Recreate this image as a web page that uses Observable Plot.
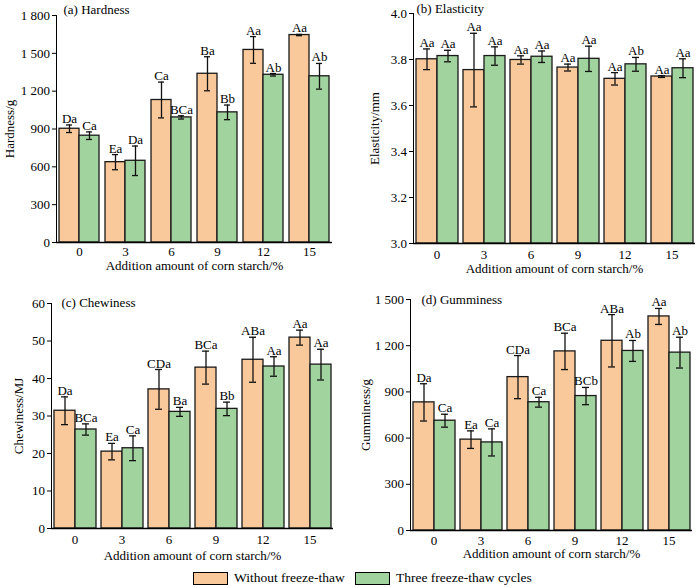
<!DOCTYPE html>
<html>
<head>
<meta charset="utf-8">
<script src="https://cdn.jsdelivr.net/npm/d3@7"></script>
<script src="https://cdn.jsdelivr.net/npm/@observablehq/plot@0.6"></script>
<style>
  body { margin: 0; background: #fff; font-family: "Liberation Serif", "DejaVu Serif", serif; }
  #wrap { position: relative; width: 700px; height: 587px; overflow: hidden; background: #fff; }
  .panel { position: absolute; }
  .legend { position: absolute; top: 570px; left: 0; width: 700px; height: 16px; font-size: 13.5px; color: #000; }
  .legend .item { position: absolute; top: 0; display: flex; align-items: center; }
  .legend .sw { width: 33px; height: 11px; border: 1.2px solid #000; margin-right: 6px; }
</style>
</head>
<body>
<div id="wrap"></div>
<script>
// ---- data ----
const amounts = ["0", "3", "6", "9", "12", "15"];
const series = ["Without freeze-thaw", "Three freeze-thaw cycles"];
const seriesColors = ["#F9C99C", "#A0D39D"];

// (a) Hardness /g
const hardnessWithout = [902, 637, 1130, 1338, 1527, 1645];
const hardnessWithoutErr = [30, 60, 142, 135, 106, 5];
const hardnessThree = [847, 648, 992, 1032, 1330, 1318];
const hardnessThreeErr = [30, 117, 13, 58, 10, 102];
const hardnessWithoutLbl = ["Da", "Ea", "Ca", "Ba", "Aa", "Aa"];
const hardnessThreeLbl = ["Ca", "Da", "BCa", "Bb", "Ab", "Ab"];
const hardnessTicks = [0, 300, 600, 900, 1200, 1500, 1800];

// (b) Elasticity /mm
const elasticityWithout = [3.801, 3.754, 3.798, 3.765, 3.716, 3.726];
const elasticityWithoutErr = [0.045, 0.16, 0.018, 0.015, 0.027, 0.004];
const elasticityThree = [3.815, 3.815, 3.812, 3.803, 3.779, 3.762];
const elasticityThreeErr = [0.025, 0.04, 0.025, 0.055, 0.03, 0.041];
const elasticityWithoutLbl = ["Aa", "Aa", "Aa", "Aa", "Aa", "Aa"];
const elasticityThreeLbl = ["Aa", "Aa", "Aa", "Aa", "Ab", "Aa"];
const elasticityTicks = [3.0, 3.2, 3.4, 3.6, 3.8, 4.0];

// (c) Chewiness /MJ
const chewinessWithout = [31.4, 20.5, 37.1, 42.9, 45.0, 50.9];
const chewinessWithoutErr = [3.7, 2.2, 5.3, 4.4, 6.0, 2.0];
const chewinessThree = [26.4, 21.4, 31.1, 31.9, 43.2, 43.7];
const chewinessThreeErr = [1.5, 3.3, 1.2, 1.8, 2.6, 4.1];
const chewinessWithoutLbl = ["Da", "Ea", "CDa", "BCa", "ABa", "Aa"];
const chewinessThreeLbl = ["BCa", "Ca", "Ba", "Bb", "Aa", "Aa"];
const chewinessTicks = [0, 10, 20, 30, 40, 50, 60];

// (d) Gumminess /g
const gumminessWithout = [832, 590, 996, 1163, 1232, 1390];
const gumminessWithoutErr = [121, 57, 140, 118, 170, 52];
const gumminessThree = [713, 572, 833, 873, 1166, 1155];
const gumminessThreeErr = [42, 88, 32, 56, 68, 100];
const gumminessWithoutLbl = ["Da", "Ea", "CDa", "BCa", "ABa", "Aa"];
const gumminessThreeLbl = ["Ca", "Ca", "Ca", "BCb", "Ab", "Ab"];
const gumminessTicks = [0, 300, 600, 900, 1200, 1500];

const xTitle = "Addition amount of corn starch/%";

// ---- helpers ----
const loc = d3.formatLocale({decimal: ".", thousands: " ", grouping: [3], currency: ["", ""]});
const fmtInt = loc.format(",");
const fmtOne = d3.format(".1f");

function rowsOf(v0, e0, l0, v1, e1, l1) {
  const rows = [];
  amounts.forEach((a, i) => {
    rows.push({amount: a, series: series[0], value: v0[i], err: e0[i], label: l0[i]});
    rows.push({amount: a, series: series[1], value: v1[i], err: e1[i], label: l1[i]});
  });
  return rows;
}

function panel(cfg) {
  const rows = cfg.rows;
  const base = cfg.domain[0];
  const chart = Plot.plot({
    width: cfg.width,
    height: cfg.height,
    marginLeft: cfg.ml, marginRight: cfg.mr, marginTop: cfg.mt, marginBottom: cfg.mb,
    style: {fontFamily: "Liberation Serif, serif", fontSize: "13px", color: "#000", background: "transparent", overflow: "visible"},
    fx: {domain: amounts, padding: 0, label: xTitle, labelAnchor: "center", labelOffset: cfg.xlo, labelArrow: "none", tickSize: 0, tickPadding: cfg.xtp},
    x: {domain: series, paddingInner: 0, paddingOuter: 0.1, axis: null},
    y: {domain: cfg.domain, ticks: cfg.ticks, tickFormat: cfg.fmt, tickSize: 4, tickPadding: 2.5, line: true,
        label: cfg.ylabel, labelAnchor: "center", labelOffset: cfg.ylo, labelArrow: "none"},
    color: {domain: series, range: seriesColors},
    marks: [
      Plot.barY(rows, {fx: "amount", x: "series", y1: base, y2: "value", fill: "series", stroke: "#1a1a1a", strokeWidth: 1.3}),
      Plot.ruleX(rows, {fx: "amount", x: "series", y1: d => d.value - d.err, y2: d => d.value + d.err, stroke: "#111", strokeWidth: 1.3}),
      Plot.tickY(rows, {fx: "amount", x: "series", y: d => d.value - d.err, insetLeft: 7, insetRight: 7, stroke: "#111", strokeWidth: 1.3}),
      Plot.tickY(rows, {fx: "amount", x: "series", y: d => d.value + d.err, insetLeft: 7, insetRight: 7, stroke: "#111", strokeWidth: 1.3}),
      Plot.text(rows, {fx: "amount", x: "series", y: d => d.value + d.err, text: "label", lineAnchor: "bottom", dy: -2, fill: "#000", fontSize: 13}),
      Plot.ruleY([base], {stroke: "#000", strokeWidth: 1.3}),
      Plot.text([{amount: amounts[0], t: cfg.title}], {fx: "amount", text: "t", frameAnchor: "top-left", textAnchor: "start", lineAnchor: "middle", dx: cfg.tdx, dy: cfg.tdy, fill: "#000", fontSize: 13})
    ]
  });
  const div = document.createElement("div");
  div.className = "panel";
  div.style.left = cfg.left + "px";
  div.style.top = cfg.top + "px";
  div.appendChild(chart);
  document.getElementById("wrap").appendChild(div);
}

panel({
  rows: rowsOf(hardnessWithout, hardnessWithoutErr, hardnessWithoutLbl, hardnessThree, hardnessThreeErr, hardnessThreeLbl),
  left: 0, top: 0, width: 350, height: 280, ml: 53, mr: 16, mt: 15, mb: 38,
  domain: [0, 1800], ticks: hardnessTicks, fmt: fmtInt, ylabel: "Hardness/g", ylo: 52, xlo: 27.5, xtp: 4,
  title: "(a) Hardness", tdx: 7, tdy: -6
});
panel({
  rows: rowsOf(elasticityWithout, elasticityWithoutErr, elasticityWithoutLbl, elasticityThree, elasticityThreeErr, elasticityThreeLbl),
  left: 350, top: 0, width: 350, height: 280, ml: 62, mr: 5, mt: 13, mb: 37,
  domain: [3, 4], ticks: elasticityTicks, fmt: fmtOne, ylabel: "Elasticity/mm", ylo: 44, xlo: 29.5, xtp: 6,
  title: "(b) Elasticity", tdx: 3, tdy: -5
});
panel({
  rows: rowsOf(chewinessWithout, chewinessWithoutErr, chewinessWithoutLbl, chewinessThree, chewinessThreeErr, chewinessThreeLbl),
  left: 0, top: 280, width: 350, height: 287, ml: 50, mr: 17, mt: 23, mb: 39,
  domain: [0, 60], ticks: chewinessTicks, fmt: fmtInt, ylabel: "Chewiness/MJ", ylo: 38, xlo: 31, xtp: 6,
  title: "(c) Chewiness", tdx: 10, tdy: -1
});
panel({
  rows: rowsOf(gumminessWithout, gumminessWithoutErr, gumminessWithoutLbl, gumminessThree, gumminessThreeErr, gumminessThreeLbl),
  left: 350, top: 280, width: 350, height: 287, ml: 59, mr: 7, mt: 19, mb: 37,
  domain: [0, 1500], ticks: gumminessTicks, fmt: fmtInt, ylabel: "Gumminess/g", ylo: 50, xlo: 27.7, xtp: 5,
  title: "(d) Gumminess", tdx: 11, tdy: 0
});

// ---- legend ----
const legend = document.createElement("div");
legend.className = "legend";
const legendLeft = [193, 355];
series.forEach((s, i) => {
  const item = document.createElement("div");
  item.className = "item";
  item.style.left = legendLeft[i] + "px";
  const sw = document.createElement("div");
  sw.className = "sw";
  sw.style.background = seriesColors[i];
  const tx = document.createElement("span");
  tx.textContent = s;
  item.appendChild(sw);
  item.appendChild(tx);
  legend.appendChild(item);
});
document.getElementById("wrap").appendChild(legend);
</script>
</body>
</html>
